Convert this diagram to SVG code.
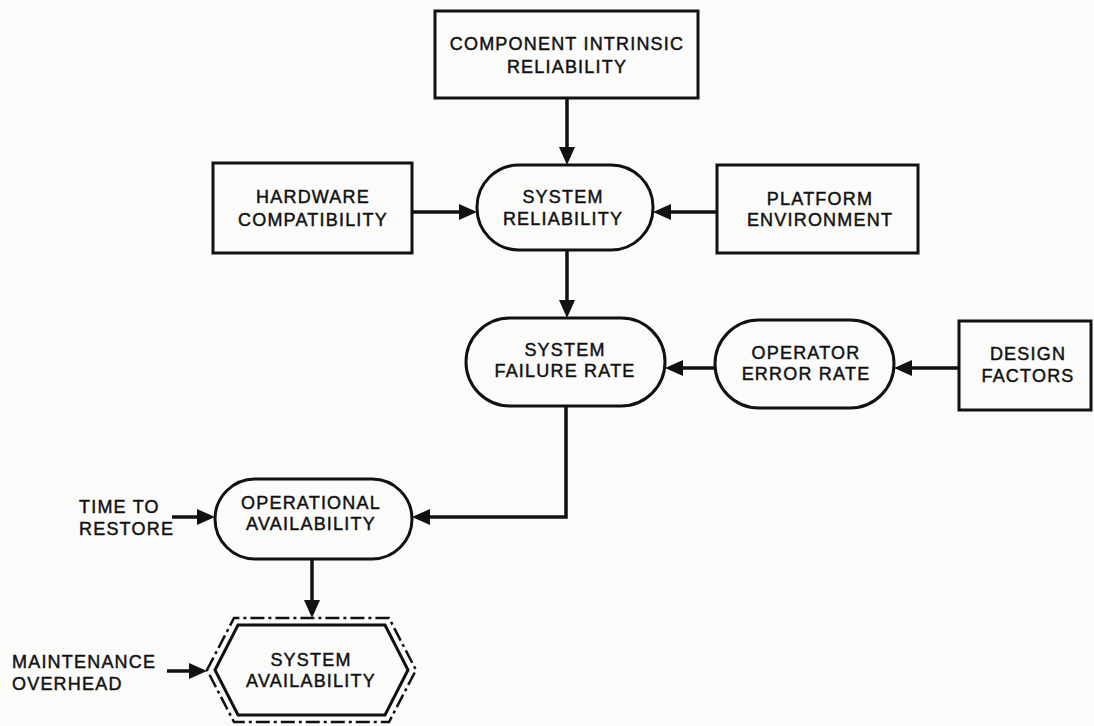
<svg xmlns="http://www.w3.org/2000/svg" width="1094" height="726" viewBox="0 0 1094 726">
<style>
.box{fill:none;stroke:#111;stroke-width:3}
.t{font-family:"Liberation Sans",Arial,sans-serif;font-size:18px;letter-spacing:1.2px;fill:#111;stroke:#111;stroke-width:0.45;text-anchor:middle}
.l{text-anchor:start}
.c{fill:none;stroke:#111;stroke-width:3.5}
.dd{fill:none;stroke:#111;stroke-width:2.5;stroke-dasharray:14 4 3 4}
</style>
<defs>
<marker id="ah" markerWidth="18" markerHeight="16" refX="2" refY="8" orient="auto" markerUnits="userSpaceOnUse">
<path d="M0,0 L18,8 L0,16 z" fill="#111"/>
</marker>
</defs>
<rect width="1094" height="726" fill="#fbfbfa"/>
<g id="component">
<rect class="box" x="435" y="11" width="263" height="87"/>
<text class="t" x="567" y="50">COMPONENT INTRINSIC</text>
<text class="t" x="567" y="73">RELIABILITY</text>
</g>
<g id="hardware">
<rect class="box" x="213" y="163" width="199" height="90"/>
<text class="t" x="313" y="203">HARDWARE</text>
<text class="t" x="313" y="226">COMPATIBILITY</text>
</g>
<g id="system-reliability">
<rect class="box" x="477" y="165" width="176" height="85" rx="42" ry="42"/>
<text class="t" x="563" y="203">SYSTEM</text>
<text class="t" x="563" y="225">RELIABILITY</text>
</g>
<g id="platform">
<rect class="box" x="717" y="165" width="201" height="88"/>
<text class="t" x="820" y="205">PLATFORM</text>
<text class="t" x="820" y="226">ENVIRONMENT</text>
</g>
<g id="failure-rate">
<rect class="box" x="466" y="318" width="199" height="88" rx="44" ry="44"/>
<text class="t" x="565" y="356">SYSTEM</text>
<text class="t" x="565" y="377">FAILURE RATE</text>
</g>
<g id="operator">
<rect class="box" x="715" y="320" width="179" height="88" rx="44" ry="44"/>
<text class="t" x="806" y="359">OPERATOR</text>
<text class="t" x="806" y="380">ERROR RATE</text>
</g>
<g id="design">
<rect class="box" x="959" y="321" width="132" height="89"/>
<text class="t" x="1028" y="360">DESIGN</text>
<text class="t" x="1028" y="382">FACTORS</text>
</g>
<g id="operational">
<rect class="box" x="215" y="479" width="197" height="80" rx="40" ry="40"/>
<text class="t" x="311" y="509">OPERATIONAL</text>
<text class="t" x="311" y="530">AVAILABILITY</text>
</g>
<g id="time-to-restore">
<text class="t l" x="79" y="513">TIME TO</text>
<text class="t l" x="79" y="535">RESTORE</text>
</g>
<g id="system-availability">
<polygon class="dd" points="207,670 234,618 389,618 416,670 389,722 234,722"/>
<polygon class="box" points="215,670 238,625 385,625 408,670 385,715 238,715"/>
<text class="t" x="311" y="666">SYSTEM</text>
<text class="t" x="311" y="687">AVAILABILITY</text>
</g>
<g id="maintenance-overhead">
<text class="t l" x="12" y="668">MAINTENANCE</text>
<text class="t l" x="12" y="690">OVERHEAD</text>
</g>
<g id="connectors">
<line class="c" x1="567" y1="98" x2="567" y2="149" marker-end="url(#ah)"/>
<line class="c" x1="412" y1="212" x2="461" y2="212" marker-end="url(#ah)"/>
<line class="c" x1="717" y1="212" x2="669" y2="212" marker-end="url(#ah)"/>
<line class="c" x1="567" y1="250" x2="567" y2="302" marker-end="url(#ah)"/>
<line class="c" x1="715" y1="368" x2="681" y2="368" marker-end="url(#ah)"/>
<line class="c" x1="959" y1="368" x2="910" y2="368" marker-end="url(#ah)"/>
<path class="c" d="M566,406 V517 H428" marker-end="url(#ah)"/>
<line class="c" x1="172" y1="517" x2="199" y2="517" marker-end="url(#ah)"/>
<line class="c" x1="312" y1="559" x2="312" y2="602" marker-end="url(#ah)"/>
<line class="c" x1="167" y1="671" x2="191" y2="671" marker-end="url(#ah)"/>
</g>
</svg>
